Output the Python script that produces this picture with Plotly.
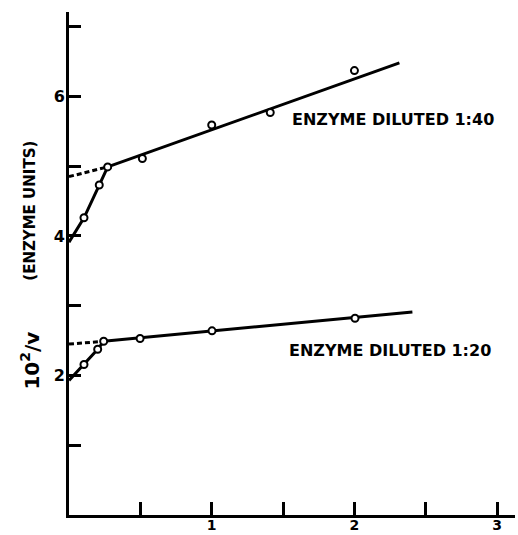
import plotly.graph_objects as go

# ---- data ----
# Enzyme diluted 1:40
pts40_x = [0.105, 0.212, 0.271, 0.514, 1.0, 1.41, 2.0]
pts40_y = [4.26, 4.73, 4.99, 5.11, 5.59, 5.77, 6.37]
steep40_x = [0.0, 0.105, 0.212, 0.271]
steep40_y = [3.91, 4.26, 4.73, 4.99]
fit40_x = [0.271, 2.315]
fit40_y = [4.99, 6.48]
dash40_x = [0.0, 0.271]
dash40_y = [4.85, 4.99]

# Enzyme diluted 1:20
pts20_x = [0.105, 0.201, 0.243, 0.498, 1.002, 2.004]
pts20_y = [2.157, 2.376, 2.49, 2.53, 2.64, 2.82]
steep20_x = [0.0, 0.105, 0.201, 0.243]
steep20_y = [1.93, 2.157, 2.376, 2.49]
fit20_x = [0.243, 2.406]
fit20_y = [2.49, 2.91]
dash20_x = [0.0, 0.243]
dash20_y = [2.45, 2.49]

x_tickvals = [1, 2, 3]
x_ticktext = ["1", "2", "3"]
y_tickvals = [2, 4, 6]
y_ticktext = ["2", "4", "6"]

labels = ["ENZYME DILUTED 1:40", "ENZYME DILUTED 1:20"]
label_x = [2.27, 2.246]
label_y = [5.67, 2.357]

FONT = "DejaVu Sans"
fig = go.Figure()

def add_line(x, y, dash="solid"):
    fig.add_trace(go.Scatter(x=x, y=y, mode="lines",
                             line=dict(color="black", width=3, dash=dash),
                             hoverinfo="skip", showlegend=False, cliponaxis=False))

add_line(steep40_x, steep40_y)
add_line(fit40_x, fit40_y)
add_line(dash40_x, dash40_y, dash="5px,3px")
add_line(steep20_x, steep20_y)
add_line(fit20_x, fit20_y)
add_line(dash20_x, dash20_y, dash="5px,3px")

for px, py in [(pts40_x, pts40_y), (pts20_x, pts20_y)]:
    fig.add_trace(go.Scatter(x=px, y=py, mode="markers",
                             marker=dict(symbol="circle", size=7, color="white",
                                         line=dict(color="black", width=2)),
                             showlegend=False, cliponaxis=False))

for t, lx, ly in zip(labels, label_x, label_y):
    fig.add_annotation(x=lx, y=ly, text=t, showarrow=False,
                       xanchor="center", yanchor="middle",
                       font=dict(family=FONT, size=16, color="black", weight="bold"))

# y-axis title pieces (rotated)
fig.add_annotation(xref="paper", yref="paper", x=-0.0874, y=0.605,
                   text="(ENZYME UNITS)", textangle=-90, showarrow=False,
                   xanchor="center", yanchor="middle",
                   font=dict(family=FONT, size=15, color="black", weight="bold"))
fig.add_annotation(xref="paper", yref="paper", x=-0.0874, y=0.307,
                   text="10<sup>2</sup>/v", textangle=-90, showarrow=False,
                   xanchor="center", yanchor="middle",
                   font=dict(family=FONT, size=20, color="black", weight="bold"))

axis_common = dict(showline=True, linecolor="black", linewidth=3,
                   ticks="inside", tickcolor="black", tickwidth=3,
                   showgrid=False, zeroline=False, automargin=False)

fig.update_xaxes(range=[0, 3.125], tickvals=x_tickvals, ticktext=x_ticktext,
                 ticklen=13, ticklabelstandoff=-5,
                 tickfont=dict(family=FONT, size=14, color="black", weight="bold"),
                 minor=dict(tick0=0, dtick=0.5, ticks="inside", ticklen=13,
                            tickwidth=3, tickcolor="black", showgrid=False),
                 **axis_common)
fig.update_yaxes(range=[0, 7.21], tickvals=y_tickvals, ticktext=y_ticktext,
                 ticklen=12, ticklabelstandoff=-2,
                 tickfont=dict(family=FONT, size=16, color="black", weight="bold"),
                 minor=dict(tick0=0, dtick=1, ticks="inside", ticklen=12,
                            tickwidth=3, tickcolor="black", showgrid=False),
                 **axis_common)

fig.update_layout(width=518, height=535,
                  margin=dict(l=69, r=3, t=12, b=20),
                  paper_bgcolor="white", plot_bgcolor="white",
                  showlegend=False)

fig.write_html("out.html")
